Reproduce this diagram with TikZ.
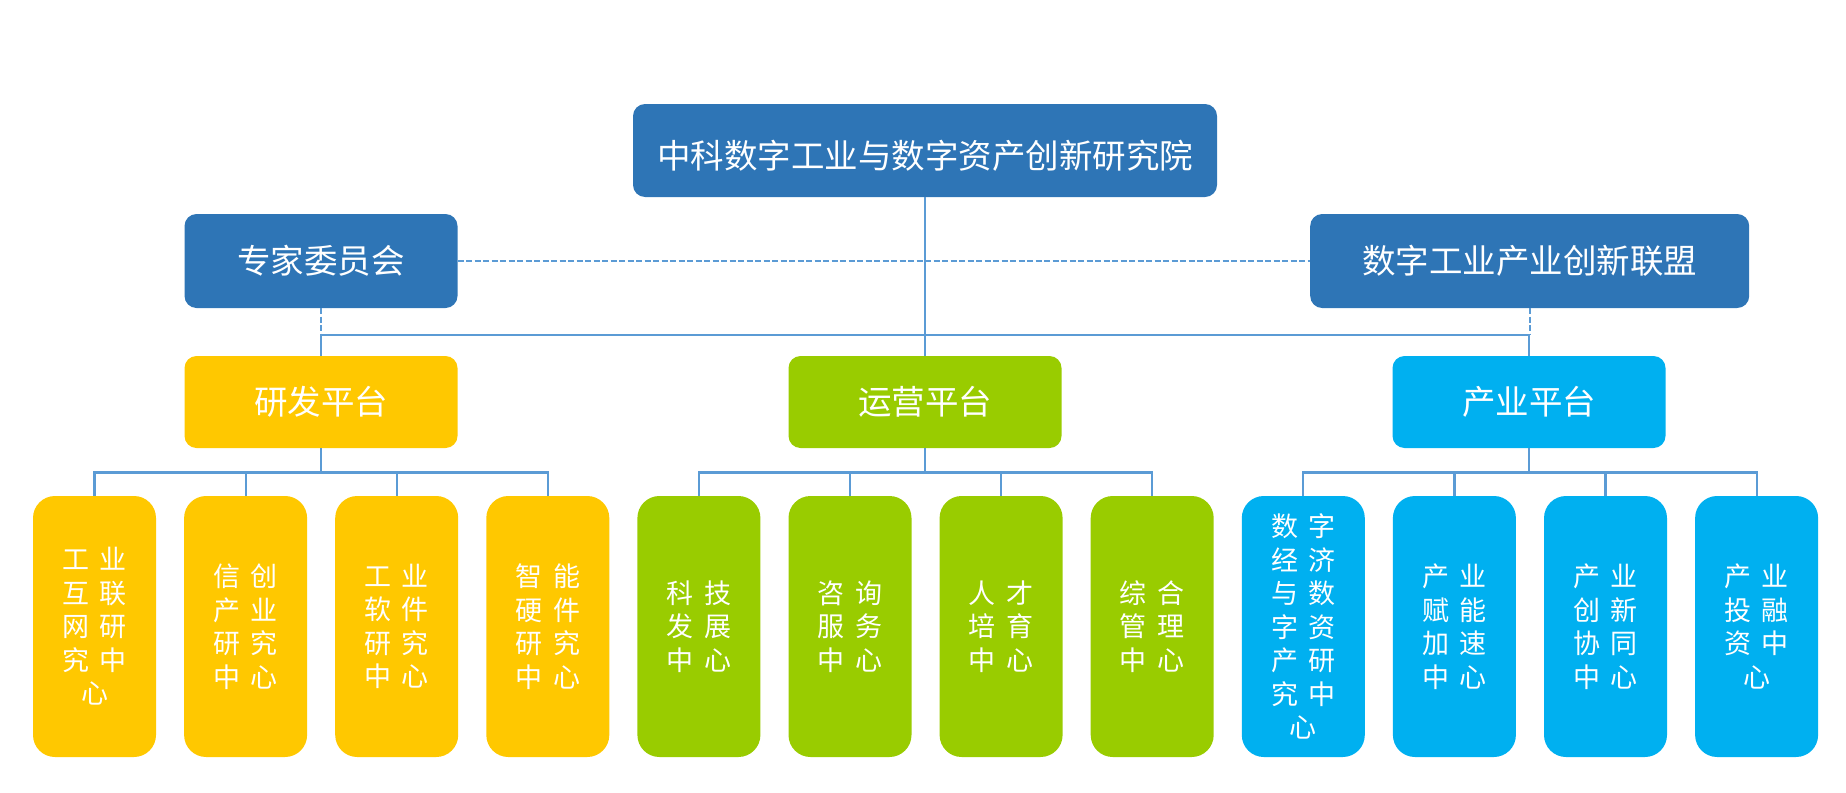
\documentclass[tikz,border=0pt]{standalone}
\usepackage{fontspec}
\setmainfont{Noto Sans CJK SC}
\definecolor{dblue}{HTML}{2E75B6}
\definecolor{yel}{HTML}{FFC800}
\definecolor{grn}{HTML}{99CC00}
\definecolor{cyn}{HTML}{00B0F0}
\definecolor{lne}{HTML}{5B9BD5}
\newcommand{\gp}{\hspace{10.5pt}}
\tikzset{
  mainbox/.style={rounded corners=12pt, fill=dblue, text=white, inner sep=0pt,
    minimum height=93pt, font=\fontsize{33.5}{40}\selectfont},
  platbox/.style={rounded corners=12pt, text=white, inner sep=0pt,
    minimum width=273pt, minimum height=92pt, font=\fontsize{33.5}{40}\selectfont},
  leafbox/.style={rounded corners=22pt, text=white, inner sep=0pt, align=center,
    minimum width=123pt, minimum height=261pt, font=\fontsize{27}{33.5}\selectfont},
  conn/.style={draw=lne, line width=2.2pt},
  dsh/.style={draw=lne, line width=2.2pt, dash pattern=on 6pt off 2.5pt}
}
\begin{document}
\begin{tikzpicture}[x=1pt,y=-1pt]
\useasboundingbox (0,0) rectangle (1846,792);
% top level
\node[mainbox, minimum width=584pt] (root) at (925,150.5) {\raisebox{-5pt}[\height][\depth]{中科数字工业与数字资产创新研究院}};
\node[mainbox, minimum width=273pt, minimum height=94pt] (expert) at (321,261) {专家委员会};
\node[mainbox, minimum width=439pt, minimum height=94pt] (alliance) at (1529.7,261) {数字工业产业创新联盟};
% platforms
\node[platbox, fill=yel] (p1) at (321,402) {研发平台};
\node[platbox, fill=grn] (p2) at (925,402) {运营平台};
\node[platbox, fill=cyn] (p3) at (1529,402) {产业平台};
% leaves
\node[leafbox, fill=yel] (l1) at (94.5,626.5) {工\gp 业\\互\gp 联\\网\gp 研\\究\gp 中\\心};
\node[leafbox, fill=yel] (l2) at (245.6,626.5) {信\gp 创\\产\gp 业\\研\gp 究\\中\gp 心};
\node[leafbox, fill=yel] (l3) at (396.7,626.5) {工\gp 业\\软\gp 件\\研\gp 究\\中\gp 心};
\node[leafbox, fill=yel] (l4) at (547.8,626.5) {智\gp 能\\硬\gp 件\\研\gp 究\\中\gp 心};
\node[leafbox, fill=grn] (l5) at (698.9,626.5) {科\gp 技\\发\gp 展\\中\gp 心};
\node[leafbox, fill=grn] (l6) at (850,626.5) {咨\gp 询\\服\gp 务\\中\gp 心};
\node[leafbox, fill=grn] (l7) at (1001.1,626.5) {人\gp 才\\培\gp 育\\中\gp 心};
\node[leafbox, fill=grn] (l8) at (1152.2,626.5) {综\gp 合\\管\gp 理\\中\gp 心};
\node[leafbox, fill=cyn] (l9) at (1303.3,626.5) {数\gp 字\\经\gp 济\\与\gp 数\\字\gp 资\\产\gp 研\\究\gp 中\\心};
\node[leafbox, fill=cyn] (l10) at (1454.4,626.5) {产\gp 业\\赋\gp 能\\加\gp 速\\中\gp 心};
\node[leafbox, fill=cyn] (l11) at (1605.5,626.5) {产\gp 业\\创\gp 新\\协\gp 同\\中\gp 心};
\node[leafbox, fill=cyn] (l12) at (1756.6,626.5) {产\gp 业\\投\gp 融\\资\gp 中\\心};
% coordinates
\coordinate (bus) at (925,335);
\coordinate (b1) at (321,472.5);
\coordinate (b2) at (925,472.5);
\coordinate (b3) at (1529,472.5);
% connectors
\draw[conn] (root.south) -- (p2.north);
\draw[conn] (p1.north) |- (bus) -| (p3.north);
\draw[dsh] (expert.east) -- (alliance.west);
\draw[dsh] (expert.south) -- (expert.south |- bus);
\draw[dsh] (alliance.south) -- (alliance.south |- bus);
\draw[conn] (p1.south) -- (b1);
\draw[conn] (p2.south) -- (b2);
\draw[conn] (p3.south) -- (b3);
\draw[conn] (l1.north) |- (b1) -| (l4.north);
\draw[conn] (l2.north) -- (l2.north |- b1);
\draw[conn] (l3.north) -- (l3.north |- b1);
\draw[conn] (l5.north) |- (b2) -| (l8.north);
\draw[conn] (l6.north) -- (l6.north |- b2);
\draw[conn] (l7.north) -- (l7.north |- b2);
\draw[conn] (l9.north) |- (b3) -| (l12.north);
\draw[conn] (l10.north) -- (l10.north |- b3);
\draw[conn] (l11.north) -- (l11.north |- b3);
\end{tikzpicture}
\end{document}
